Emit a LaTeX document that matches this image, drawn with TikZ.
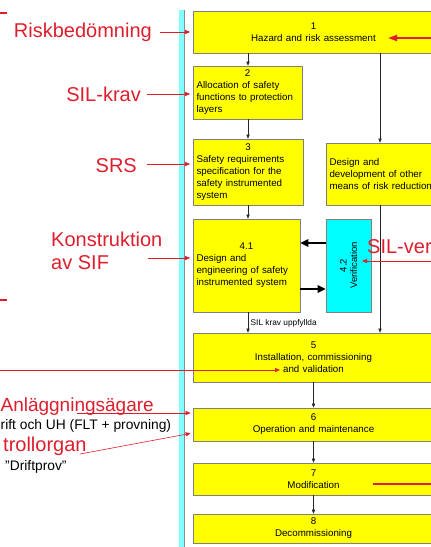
\documentclass[tikz,border=0pt]{standalone}
\usepackage{fontspec}
\setmainfont{Liberation Sans}
\usetikzlibrary{arrows.meta}
\definecolor{sred}{RGB}{222,30,45}
\definecolor{barcyan}{RGB}{130,255,255}
\definecolor{boxyellow}{RGB}{255,255,0}
\definecolor{boxcyan}{RGB}{0,255,255}
\newcommand{\numline}[1]{\makebox[\hsize]{#1}\\}
\begin{document}
\begin{tikzpicture}[x=1pt,y=-1pt,
  boxbase/.style={draw=black!50, line width=0.7pt, inner xsep=3.5pt, inner ysep=0pt,
    font=\fontsize{9.75}{12}\selectfont},
  ybox/.style={boxbase, fill=boxyellow},
  cbox/.style={boxbase, fill=boxcyan},
  wide/.style={ybox, text width=234pt, align=center, minimum height=#1},
  lbox/.style n args={2}{ybox, text width=#1-7pt, align=left, minimum height=#2},
  rlab/.style={text=sred, font=\fontsize{20}{23.3}\selectfont, inner sep=0pt},
  blab/.style={text=black, font=\fontsize{13.8}{16}\selectfont, inner sep=0pt},
  arr/.style={draw=black!85, line width=0.6pt, -{Triangle[length=4pt,width=3.2pt]}},
  thickarr/.style={draw=black, line width=1.8pt, -{Triangle[length=8pt,width=7.5pt]}},
  rarr/.style={draw=sred, line width=0.6pt, -{Triangle[length=5pt,width=4pt]}},
  rthick/.style={draw=sred, line width=1.8pt},
]
\useasboundingbox (0,0) rectangle (431,547);
\clip (0,0) rectangle (431,547);

% cyan vertical bar
\fill[barcyan] (179,10) rectangle (185,552);
\draw[black!45, line width=0.8pt] (184.6,10) -- (184.6,552);

% boxes
\node[wide=42pt] (b1) at (313.5,32) {1\\Hazard and risk assessment};
\node[lbox={109pt}{53pt}] (b2) at (247.5,92.5) {\numline{2}Allocation of safety\\functions to protection\\layers};
\node[lbox={110pt}{66pt}] (b3) at (248,172) {\numline{3}Safety requirements\\specification for the\\safety instrumented\\system};
\node[lbox={114pt}{62pt}] (dd) at (383,174) {Design and\\development of other\\means of risk reduction};
\node[lbox={107pt}{93pt}] (b41) at (246.5,265.5) {\numline{4.1}Design and\\engineering of safety\\instrumented system};
\node[cbox, minimum width=45pt, minimum height=93pt] (v42) at (348.5,265.5) {};
\node[rotate=90, align=center, inner sep=0pt, font=\fontsize{9.5}{10.5}\selectfont] (v42t) at (v42.center) {4.2\\Verification};
\node[wide=49pt] (b5) at (313.5,357.5) {5\\Installation, commissioning\\and validation};
\node[wide=33pt] (b6) at (313.5,424.5) {6\\Operation and maintenance};
\node[wide=32pt] (b7) at (313.5,479) {7\\Modification};
\node[wide=29pt] (b8) at (313.5,528.5) {8\\Decommissioning};

% flow connectors
\coordinate (lc) at (248,0);
\coordinate (rc) at (380,0);
\draw[arr] (b1.south -| lc) -- (b2.north -| lc);
\draw[arr] (b2.south -| lc) -- (b3.north -| lc);
\draw[arr] (b3.south -| lc) -- (b41.north -| lc);
\draw[arr] (b41.south -| lc) -- (b5.north -| lc);
\node[anchor=west, inner sep=0pt, font=\fontsize{8.3}{9}\selectfont] (sil) at (250.5,323) {SIL krav uppfyllda};
\draw[arr] (b1.south -| rc) -- (dd.north -| rc);
\draw[arr] (dd.south -| rc) -- (b5.north -| rc);
\draw[arr] (b5.south) -- (b6.north);
\draw[arr] (b6.south) -- (b7.north);
\draw[arr] (b7.south) -- (b8.north);
\draw[thickarr] ([yshift=22.5pt]v42.west) -- ([yshift=22.5pt]b41.east);
\draw[thickarr] ([yshift=-23.5pt]b41.east) -- ([yshift=-23.5pt]v42.west);

% red labels on the left
\draw[sred, line width=1.6pt] (0,13) -- (7,13);
\draw[sred, line width=1.6pt] (0,300) -- (7,300);
\node[rlab, anchor=east] (risk) at (152,32) {Riskbedömning};
\draw[rarr, shorten >=2.5pt] ([xshift=8pt]risk.east) -- (risk.east -| b1.west);
\node[rlab, anchor=east] (silk) at (141,94) {SIL-krav};
\draw[rarr, shorten >=2.5pt] ([xshift=6pt]silk.east) -- (silk.east -| b2.west);
\node[rlab, anchor=east] (srs) at (137,166) {SRS};
\coordinate (srsA) at ([shift={(10pt,2pt)}]srs.east);
\draw[rarr, shorten >=2.5pt] (srsA) -- (srsA -| b3.west);
\node[rlab, anchor=north west, align=left] (kon) at (51,232) {Konstruktion\\av SIF};
\coordinate (konA) at (148,258);
\draw[rarr, shorten >=2.5pt] (konA) -- (konA -| b41.west);

\node[rlab, font=\fontsize{19}{23}\selectfont, anchor=base west] (anl) at (0.4,411) {Anläggningsägare};
\node[blab, anchor=base west] (drift) at (0.5,429) {rift och UH (FLT + provning)};
\node[rlab, anchor=base west] (kont) at (3,451.5) {trollorgan};
\node[blab, anchor=base west] (dprov) at (5,470) {”Driftprov”};
\coordinate (anlA) at (77,413);
\draw[rarr, shorten >=2pt] (anlA) -- (anlA -| b6.west);
\coordinate (kontA) at (80,454);
\draw[rarr, shorten >=2pt] (kontA) -- (b6.west |- 0,433);

% red line into box 5
\coordinate (r5A) at (-2,370);
\coordinate (r5B) at (280,370);
\draw[rarr] (r5A) -- (r5B);

% red on the right
\coordinate (r1A) at (440,38);
\coordinate (r1B) at (388,38);
\draw[rthick, -{Triangle[length=9pt,width=6pt]}] (r1A) -- (r1B);
\node[rlab, anchor=base west] (silv) at (367,253) {SIL-ver};
\coordinate (svA) at (440,261);
\coordinate (svB) at (362,261);
\draw[rarr] (svA) -- (svB);
\coordinate (r7A) at (373,484);
\coordinate (r7B) at (440,484);
\draw[rthick] (r7A) -- (r7B);
\end{tikzpicture}
\end{document}
